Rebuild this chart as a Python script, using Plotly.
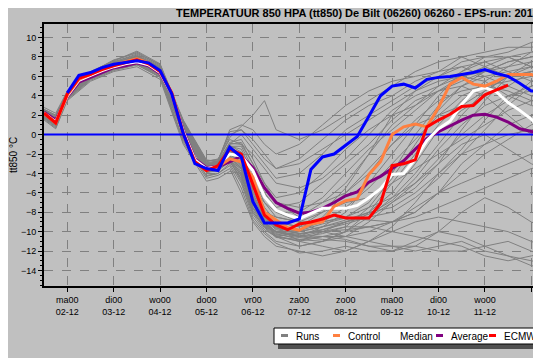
import plotly.graph_objects as go

# ---------------- data ----------------
tick_days = [0, 1, 2, 3, 4, 5, 6, 7, 8, 9, 10]
tick_labels = ["ma00<br>02-12", "di00<br>03-12", "wo00<br>04-12", "do00<br>05-12",
               "vr00<br>06-12", "za00<br>07-12", "zo00<br>08-12", "ma00<br>09-12",
               "di00<br>10-12", "wo00<br>11-12", "do00<br>12-12"]

t_runs = [-0.5, -0.25, 0, 0.5, 1, 1.5, 2, 2.5, 3, 3.25, 3.5, 3.75, 4, 4.25, 4.5,
          5, 5.5, 6, 6.5, 7, 7.5, 8, 8.5, 9, 9.5, 10, 10.5]
runs = [
    [2.2,1.5,4.1,6.1,7.2,7.8,6.6,0.8,-3.2,-3.0,-1.5,-2.5,-6.0,-8.5,-9.5,-10.0,-9.5,-8.8,-8.0,-6.0,-3.0,0.5,2.5,4.0,5.0,6.5,7.0],
    [1.8,1.0,3.8,5.8,6.9,7.4,6.2,0.2,-3.8,-3.6,-2.2,-3.5,-7.5,-9.0,-10.5,-11.0,-10.5,-10.0,-9.5,-9.0,-8.0,-6.0,-3.0,-1.0,1.0,2.0,3.0],
    [2.5,1.8,4.3,6.3,7.5,8.2,7.0,1.2,-2.8,-2.5,-0.5,-1.0,-3.0,-5.0,-7.0,-8.5,-7.0,-5.0,-2.0,1.0,3.0,5.0,6.0,5.5,4.0,3.0,2.5],
    [2.0,1.2,3.9,5.9,7.0,7.6,6.4,0.4,-3.6,-3.4,-2.5,-4.0,-8.0,-9.5,-10.0,-10.5,-10.8,-11.0,-11.5,-11.5,-12.0,-11.5,-11.0,-12.0,-12.5,-13.0,-13.5],
    [1.6,0.7,3.6,5.6,6.6,7.2,6.0,-0.5,-4.2,-4.0,-3.0,-5.0,-8.5,-10.0,-11.0,-11.5,-11.0,-10.0,-8.0,-5.0,-2.0,1.0,3.5,5.5,7.0,8.5,9.0],
    [2.8,2.2,4.5,6.5,7.6,8.6,7.3,1.5,-2.6,-2.8,0.5,1.0,0.5,-1.0,-2.0,-1.0,1.0,3.0,4.5,5.5,6.0,6.5,7.0,6.0,5.0,4.0,3.5],
    [2.1,1.4,4.0,6.0,7.1,7.5,6.5,0.6,-3.4,-3.3,-1.8,-2.0,-5.0,-7.5,-9.0,-9.5,-9.0,-8.5,-7.0,-4.0,0.0,3.0,5.0,6.5,7.5,8.0,8.5],
    [1.9,1.1,3.7,5.7,6.8,7.3,6.1,0.0,-3.9,-3.7,-2.8,-4.5,-7.0,-8.5,-9.5,-11.0,-11.5,-12.0,-11.0,-10.0,-9.0,-8.5,-9.0,-9.5,-10.0,-11.0,-12.0],
    [2.3,1.6,4.2,6.2,7.3,7.9,6.8,1.0,-3.0,-2.9,-1.0,0.0,-1.5,-3.0,-4.5,-4.0,-2.0,0.5,2.0,3.5,5.0,6.0,7.5,8.0,8.5,9.5,10.0],
    [2.0,1.3,4.0,6.0,7.0,7.7,6.6,0.3,-3.5,-3.2,-2.0,-3.0,-6.5,-8.0,-8.5,-9.0,-8.0,-7.0,-6.5,-5.0,-3.5,-2.0,-0.5,1.0,2.5,3.5,4.0],
    [1.7,0.9,3.9,5.8,6.7,7.2,5.9,-0.8,-4.5,-4.2,-3.5,-6.0,-9.0,-10.5,-11.5,-12.0,-12.5,-12.0,-11.0,-9.5,-7.0,-4.0,-2.0,-1.0,0.0,0.5,1.0],
    [2.4,1.7,4.2,6.2,7.4,8.0,6.9,0.9,-3.1,-3.0,-1.2,-1.5,-4.0,-6.0,-7.5,-7.0,-5.0,-3.0,-1.0,1.5,3.5,4.5,5.0,4.0,2.0,0.0,-1.0],
    [2.2,1.5,4.1,6.1,7.2,7.7,6.7,0.7,-3.3,-3.1,-1.6,-2.8,-6.5,-9.0,-10.0,-10.5,-9.5,-8.0,-5.0,-2.0,1.0,4.0,6.5,7.5,8.0,7.0,6.0],
    [1.5,0.6,3.5,5.5,6.5,7.0,5.7,-1.0,-4.8,-4.5,-3.8,-4.0,-5.5,-7.0,-8.0,-9.0,-10.0,-10.5,-10.0,-9.0,-7.5,-6.0,-5.0,-4.0,-3.0,-2.0,-1.5],
    [2.6,2.0,4.4,6.4,7.7,8.4,7.2,1.4,-2.7,-2.6,0.0,0.5,-1.0,-2.5,-3.5,-3.0,-1.5,0.0,1.5,3.0,4.5,5.5,6.0,6.5,7.0,7.5,8.0],
    [2.0,1.2,3.9,6.0,7.0,7.5,6.4,0.5,-3.5,-3.3,-2.3,-3.8,-7.0,-9.0,-10.0,-10.0,-9.5,-9.0,-8.5,-8.0,-6.5,-4.5,-2.0,0.5,3.0,5.0,6.0],
    [1.8,1.0,3.8,5.9,6.9,7.4,6.3,0.1,-3.7,-3.5,-2.6,-4.2,-7.8,-9.5,-10.5,-11.5,-11.0,-10.5,-9.0,-7.0,-5.0,-3.0,-1.0,0.0,-1.5,-3.0,-4.0],
    [2.3,1.6,4.2,6.2,7.4,8.1,6.9,1.1,-3.0,-2.8,-0.8,-0.5,-2.5,-5.0,-6.5,-6.0,-4.0,-1.5,0.5,2.0,3.0,4.5,6.0,7.0,8.0,8.5,9.0],
    [2.1,1.4,4.0,6.1,7.1,7.6,6.5,0.6,-3.4,-3.2,-1.9,-3.2,-7.2,-9.2,-10.2,-10.8,-10.5,-10.5,-11.0,-11.5,-11.5,-12.0,-12.0,-11.5,-11.0,-12.0,-13.0],
    [1.9,1.1,3.8,5.8,6.8,7.3,6.2,0.0,-3.9,-3.6,-2.7,-4.8,-8.2,-9.8,-10.5,-10.0,-8.5,-6.0,-3.5,-1.0,1.5,3.5,4.5,5.0,4.5,3.5,3.0],
    [2.5,1.9,4.3,6.3,7.5,8.3,7.1,1.3,-2.9,-2.7,-0.3,0.8,2.0,3.5,0.5,-0.5,0.5,2.0,3.5,5.0,6.5,7.5,8.0,7.0,6.0,6.5,7.0],
    [2.0,1.3,4.0,6.0,7.0,7.6,6.5,0.4,-3.5,-3.3,-2.1,-3.3,-6.8,-8.8,-9.8,-10.2,-10.0,-9.8,-9.5,-9.0,-8.5,-7.5,-6.5,-5.5,-4.5,-3.5,-3.0],
    [1.7,0.8,3.7,5.7,6.7,7.2,6.0,-0.6,-4.3,-4.0,-3.2,-5.5,-8.8,-10.2,-11.2,-12.2,-12.0,-11.5,-12.0,-12.0,-11.0,-10.0,-10.5,-11.5,-12.5,-13.5,-14.0],
    [2.2,1.5,4.1,6.1,7.2,7.8,6.7,0.8,-3.2,-3.0,-1.4,-2.2,-5.5,-8.0,-9.0,-9.5,-8.0,-5.5,-2.0,2.0,4.5,6.0,7.0,7.5,6.5,5.5,5.0],
    [2.4,1.7,4.2,6.3,7.3,8.0,6.8,0.9,-3.1,-2.9,-1.1,-1.8,-4.5,-7.0,-8.5,-9.0,-9.0,-8.5,-7.5,-6.5,-5.0,-2.5,0.0,2.0,3.5,5.5,6.5],
    [2.0,1.3,3.9,5.9,7.0,7.5,6.4,0.4,-3.6,-3.4,-2.4,-3.6,-7.2,-9.2,-10.0,-10.3,-9.8,-9.0,-8.2,-6.8,-4.5,-1.5,1.0,3.0,4.0,4.5,5.0],
    [2.1,1.4,4.0,6.0,7.1,7.6,6.5,0.5,-3.4,-3.2,-1.7,-2.6,-6.2,-8.6,-9.6,-10.2,-9.8,-9.2,-8.5,-7.0,-5.5,-3.0,0.5,3.5,6.0,7.5,8.0],
    [1.9,1.2,3.9,5.9,6.9,7.5,6.3,0.2,-3.7,-3.5,-2.5,-4.0,-7.5,-9.3,-10.3,-10.6,-10.2,-9.5,-7.5,-4.5,-1.0,2.5,5.0,6.0,6.5,7.0,7.5],
    [2.3,1.6,4.1,6.2,7.3,7.9,6.8,0.9,-3.1,-2.9,-1.2,-1.2,-3.5,-6.0,-8.0,-8.0,-6.5,-4.0,-1.5,0.5,2.5,4.5,5.5,6.5,7.5,8.0,8.5],
    [2.0,1.3,3.9,6.0,7.0,7.6,6.5,0.4,-3.5,-3.4,-2.2,-3.5,-7.0,-9.0,-10.0,-10.4,-10.5,-10.8,-11.5,-12.0,-11.5,-10.0,-8.0,-6.5,-7.5,-9.0,-10.0],
    [2.4,1.8,4.3,6.3,7.4,8.1,7.0,1.1,-3.0,-2.8,-0.9,-1.0,-2.0,-3.5,-5.0,-5.5,-4.5,-2.5,0.0,2.5,4.0,5.0,6.5,8.0,8.0,7.0,6.0],
    [1.8,1.0,3.8,5.8,6.8,7.3,6.2,0.1,-3.8,-3.6,-2.6,-4.3,-7.6,-9.4,-10.4,-11.0,-10.0,-9.0,-8.0,-7.5,-6.0,-4.0,-1.5,1.5,4.0,5.0,5.5],
    [2.2,1.5,4.1,6.1,7.2,7.8,6.7,0.7,-3.3,-3.1,-1.5,-2.4,-5.8,-8.2,-9.3,-9.8,-9.0,-7.5,-5.5,-3.0,-0.5,2.0,4.0,5.0,5.5,6.0,6.5],
    [2.0,1.2,3.9,5.9,7.0,7.5,6.4,0.3,-3.6,-3.4,-2.3,-3.4,-7.0,-9.1,-10.1,-10.5,-10.0,-9.5,-9.5,-10.0,-10.5,-11.0,-11.5,-12.5,-13.0,-12.5,-12.0],
    [2.6,2.0,4.4,6.4,7.6,8.5,7.2,1.4,-2.7,-2.6,0.3,0.5,-0.5,-2.0,-3.5,-2.5,-0.5,1.5,3.0,4.0,5.5,6.5,8.0,8.5,9.0,9.0,9.5],
    [1.9,1.1,3.8,5.8,6.9,7.4,6.3,0.2,-3.8,-3.5,-2.7,-4.6,-8.0,-9.6,-10.6,-10.8,-11.0,-10.0,-8.5,-6.5,-4.0,-1.0,2.0,4.5,6.0,6.5,6.0],
    [2.1,1.4,4.0,6.0,7.1,7.6,6.5,0.5,-3.4,-3.3,-1.9,-2.9,-6.4,-8.7,-9.7,-9.9,-9.2,-8.6,-8.8,-9.0,-8.0,-6.0,-4.0,-2.0,-0.5,1.0,2.0],
    [2.3,1.6,4.2,6.2,7.3,8.0,6.9,1.0,-3.0,-2.9,-1.0,-0.8,-3.0,-5.5,-7.0,-7.5,-7.0,-6.0,-4.0,-1.0,1.0,2.0,3.0,4.5,6.0,7.0,7.5],
]

t_full = [-0.5, -0.25, 0, 0.25, 0.5, 0.75, 1, 1.25, 1.5, 1.75, 2, 2.25, 2.5, 2.75,
          3, 3.25, 3.5, 3.75, 4, 4.25, 4.5, 4.75, 5, 5.25, 5.5, 5.75, 6, 6.25, 6.5,
          6.75, 7, 7.25, 7.5, 7.75, 8, 8.25, 8.5, 8.75, 9, 9.25, 9.5, 9.75, 10, 10.25]

control = [2.2, 1.2, 4.1, 5.7, 6.2, 6.8, 7.2, 7.5, 7.8, 7.4, 6.5, 4.3, 0.1, -2.8,
           -3.7, -3.3, -2.5, -2.8, -4.4, -8.0, -8.8, -9.6, -9.85, -9.2, -9.0, -7.4,
           -6.8, -6.6, -4.1, -2.8, 0.0, 0.8, 1.1, 0.8, 2.8, 5.2, 5.9, 5.2, 5.0, 5.5,
           6.2, 6.2, 6.2, 5.7]
median = [2.2, 1.3, 4.0, 5.6, 6.1, 6.6, 7.0, 7.3, 7.5, 7.2, 6.4, 4.2, 0.3, -2.6,
          -3.5, -3.3, -2.0, -2.2, -3.7, -6.4, -7.8, -8.3, -8.65, -8.1, -7.6, -7.6,
          -7.6, -7.3, -6.5, -5.6, -4.1, -4.0, -2.5, -0.6, 0.6, 1.4, 3.1, 4.5, 4.85,
          4.4, 3.3, 2.5, 1.6, 0.4]
average = [2.3, 1.5, 3.9, 5.4, 5.9, 6.4, 6.9, 7.1, 7.4, 7.1, 6.3, 4.2, 0.4, -2.5,
           -3.4, -3.3, -2.8, -2.2, -3.4, -5.5, -7.0, -7.6, -8.1, -8.0, -7.6, -7.0,
           -6.3, -5.9, -4.9, -4.3, -3.5, -2.7, -1.5, -0.4, 0.3, 0.9, 1.5, 2.0, 2.1,
           1.8, 1.3, 0.6, 0.3, 0.05]

t_ecmwf = t_full[:41]
ecmwf = [2.2, 1.2, 4.2, 5.8, 6.2, 6.7, 7.1, 7.4, 7.7, 7.3, 6.5, 4.3, 0.1, -2.8,
         -3.7, -3.2, -1.5, -2.0, -5.1, -8.3, -9.3, -9.8, -9.2, -9.0, -8.7, -8.3,
         -8.6, -8.6, -8.6, -7.1, -3.2, -3.0, -2.6, 0.8, 1.5, 2.1, 2.9, 3.0, 4.1,
         4.6, 5.1]

t_blue = t_full[2:]
blue = [4.3, 6.1, 6.4, 6.9, 7.25, 7.4, 7.6, 7.4, 6.6, 4.2, 0.1, -3.0, -3.5, -3.7,
        -1.3, -2.3, -6.9, -9.1, -9.1, -9.1, -8.7, -3.6, -2.3, -2.0, -1.1, -0.2,
        1.9, 4.0, 5.0, 5.2, 4.8, 5.7, 5.9, 6.0, 6.2, 6.4, 6.7, 6.3, 6.0, 5.3, 4.5, 4.45]

zero_x = [-1, 11]
zero_y = [0, 0]

legend_items = ["Runs", "Control", "Median", "Average", "ECMWF"]
legend_colors = ["#808080", "#ff8040", "#ffffff", "#800080", "#ff0000"]

# ---------------- figure ----------------
# page body has an 8px margin; the figure is sized so that it ends at the window edge
OFF = 8
W, H = 541 - OFF, 358 - OFF
L, R, T, B = 44 - OFF, 0, 24 - OFF, 72
PW, PH = W - L - R, H - T - B
FONT = "Liberation Sans, Arial, sans-serif"

def px(x):  # window pixel -> paper x
    return (x - OFF - L) / PW

def py(y):  # window pixel -> paper y
    return (H - B - (y - OFF)) / PH

fig = go.Figure()
for r in runs:
    fig.add_trace(go.Scatter(x=t_runs, y=r, mode="lines",
                             line=dict(color="#808080", width=1), showlegend=False,
                             hoverinfo="skip"))
fig.add_trace(go.Scatter(x=zero_x, y=zero_y, mode="lines",
                         line=dict(color="#0000ff", width=2), showlegend=False))
fig.add_trace(go.Scatter(x=t_full, y=average, mode="lines",
                         line=dict(color="#800080", width=3), showlegend=False))
fig.add_trace(go.Scatter(x=t_full, y=median, mode="lines",
                         line=dict(color="#ffffff", width=3), showlegend=False))
fig.add_trace(go.Scatter(x=t_full, y=control, mode="lines",
                         line=dict(color="#ff8040", width=3), showlegend=False))
fig.add_trace(go.Scatter(x=t_ecmwf, y=ecmwf, mode="lines",
                         line=dict(color="#ff0000", width=3), showlegend=False))
fig.add_trace(go.Scatter(x=t_blue, y=blue, mode="lines",
                         line=dict(color="#0000ff", width=3), showlegend=False))

x0_day = -0.502
day_px = 46.4
fig.update_xaxes(range=[x0_day, x0_day + PW / day_px], tickvals=tick_days,
                 ticktext=tick_labels, ticks="outside", ticklen=4, tickcolor="black",
                 showline=True, linecolor="black", linewidth=2, mirror=True,
                 showgrid=True, gridcolor="#808080", griddash="dash", gridwidth=1,
                 zeroline=False, tickfont=dict(size=9, color="black", family=FONT))
fig.update_yaxes(range=[-15.6, 11.4], tickvals=list(range(-14, 11, 2)),
                 ticks="outside", ticklen=4, tickcolor="black",
                 minor=dict(dtick=0.5, ticks="outside", ticklen=2, tickcolor="black",
                            showgrid=False),
                 showline=True, linecolor="black", linewidth=2, mirror=False,
                 showgrid=True, gridcolor="#808080", griddash="dash", gridwidth=1,
                 zeroline=False, tickfont=dict(size=9, color="black", family=FONT),
                 title=dict(text="tt850 °C", font=dict(size=10, color="black", family=FONT),
                            standoff=2))

shapes = []
anns = []
# legend box with shadow
shapes.append(dict(type="rect", xref="paper", yref="paper", x0=px(278), x1=px(560),
                   y0=py(349), y1=py(331), fillcolor="#505050", line=dict(width=0)))
shapes.append(dict(type="rect", xref="paper", yref="paper", x0=px(274), x1=px(560),
                   y0=py(344), y1=py(328), fillcolor="white",
                   line=dict(color="black", width=1)))
leg_x = [281, 333, 385, 436, 489]
for name, col, lx in zip(legend_items, legend_colors, leg_x):
    shapes.append(dict(type="line", xref="paper", yref="paper", x0=px(lx), x1=px(lx + 7),
                       y0=py(335.5), y1=py(335.5), line=dict(color=col, width=3)))
    anns.append(dict(text=name, xref="paper", yref="paper", x=px(lx + 13), y=py(336),
                     xanchor="left", yanchor="middle", showarrow=False,
                     font=dict(size=10, color="black", family=FONT)))
shapes.append(dict(type="line", xref="paper", yref="paper", x0=px(539), x1=px(546),
                   y0=py(335.5), y1=py(335.5), line=dict(color="#0000ff", width=3)))

anns.append(dict(text="<b>TEMPERATUUR 850 HPA (tt850) De Bilt (06260) 06260 - EPS-run: 2013</b>",
                 xref="paper", yref="paper", x=px(174), y=py(13), xanchor="left",
                 yanchor="middle", showarrow=False,
                 font=dict(size=11, color="black", family=FONT)))

fig.update_layout(width=W, height=H, margin=dict(l=L, r=R, t=T, b=B),
                  paper_bgcolor="#c0c0c0", plot_bgcolor="#c0c0c0",
                  showlegend=False, shapes=shapes, annotations=anns)

fig.write_html("out.html")
